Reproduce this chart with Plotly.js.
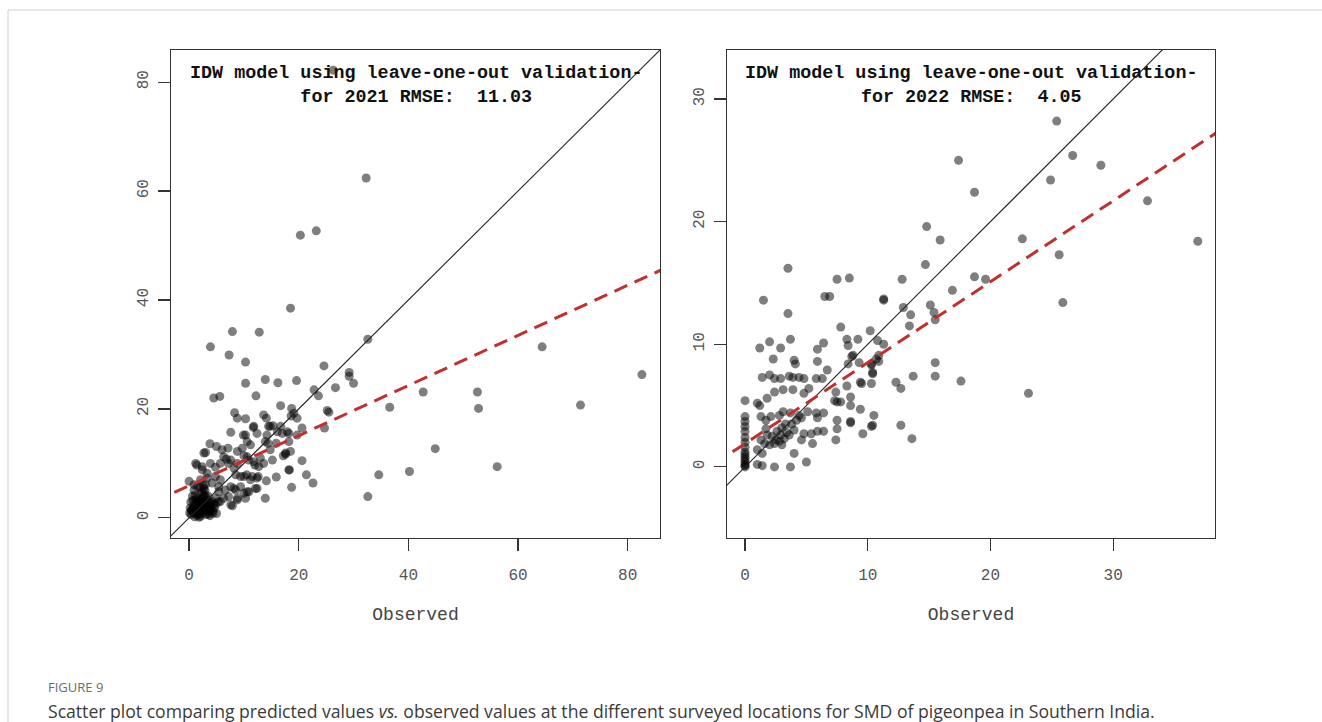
<!DOCTYPE html>
<html>
<head>
<meta charset="utf-8">
<script src="https://cdn.plot.ly/plotly-3.0.1.min.js"></script>
<style>
  html, body { margin: 0; padding: 0; background: #fff; }
  #chart { width: 1322px; height: 722px; }
</style>
</head>
<body>
<div id="chart"></div>
<script>
// ---------- 2021 (left panel) ----------
const obs2021 = [
  26.3, 32.3, 20.3, 23.2, 18.5, 7.9, 12.8, 3.9, 7.3, 10.3, 32.6, 24.6, 29.2, 29.2, 30.0, 10.3, 13.9, 16.2, 19.6, 22.8,
  26.7, 64.4, 82.6, 42.7, 52.6, 36.6, 52.8, 71.4, 44.9, 40.2, 56.2, 34.6, 32.6, 23.6, 4.5, 5.6, 12.2, 8.3, 8.8, 10.3,
  13.6, 14.1, 16.7, 18.7, 19.1, 18.6, 19.7, 20.6, 25.2, 25.5, 24.7, 7.6, 10.3, 11.8, 12.4, 14.5, 15.3, 16.1, 17.0, 17.9,
  10.6, 14.2, 14.4, 15.9, 18.2, 18.5, 17.6, 17.2, 20.6, 3.8, 5.0, 6.0, 7.1, 3.0, 1.4, 2.4, 3.9, 4.8, 5.7, 6.8,
  7.6, 8.8, 10.0, 10.9, 12.0, 13.0, 11.5, 9.4, 8.5, 10.5, 12.6, 14.1, 15.9, 18.3, 21.4, 22.6, 18.7, 2.1, 3.3, 4.2,
  0.9, 1.5, 2.7, 5.4, 6.6, 8.2, 9.4, 10.6, 12.1, 7.2, 8.8, 10.0, 13.9, 5.7, 7.9, 4.8,
  9.9, 11.7, 14.8, 16.7, 18.2, 11.2, 13.9, 14.8, 2.7, 6.3, 8.8, 9.7, 10.6, 1.2, 7.2, 8.2, 11.8, 12.7, 13.6, 15.2,
  17.6, 18.2, 19.7, 2.4, 3.3, 4.8, 5.7, 10.0, 11.2, 12.4, 0.0, 0.9, 7.6, 8.5, 10.9, 12.4, 5.4, 6.3, 8.8, 10.3,
  7.6, 3.9,
  0.2, 0.5, 0.8, 1.0, 1.2, 1.3, 1.5, 1.6, 1.8, 1.9, 2.0, 2.1, 2.2, 2.3, 2.5, 2.6, 2.7, 2.8, 2.9, 3.0,
  3.1, 3.2, 3.3, 3.4, 3.5, 3.6, 3.7, 3.8, 4.0, 4.2, 4.3, 0.4, 0.7, 1.1, 1.4, 1.7, 2.4, 2.0, 2.6, 3.0,
  0.3, 0.6, 1.0, 1.8, 2.5, 3.9, 4.4, 0.1, 2.2, 1.5, 4.6, 5.0, 5.3, 4.9,
  0.6, 1.3, 2.0, 2.7, 3.4, 0.9, 1.6, 2.3, 3.1, 3.8, 1.2, 2.1, 2.9, 0.4, 1.9, 3.6, 4.5, 2.6
];
const pred2021 = [
  82.2, 62.4, 51.9, 52.7, 38.5, 34.2, 34.1, 31.4, 29.9, 28.6, 32.8, 27.9, 26.7, 26.0, 24.7, 24.7, 25.4, 24.8, 25.2, 23.5,
  23.9, 31.4, 26.3, 23.1, 23.1, 20.3, 20.1, 20.7, 12.7, 8.5, 9.4, 7.9, 3.9, 22.4, 22.0, 22.3, 22.4, 19.3, 18.3, 18.2,
  18.9, 18.3, 20.6, 20.1, 19.2, 18.7, 18.3, 16.5, 19.7, 19.4, 16.5, 15.7, 15.2, 16.8, 15.5, 16.8, 16.9, 15.8, 15.5, 15.8,
  14.0, 15.2, 13.7, 13.7, 14.0, 12.2, 11.7, 11.4, 10.5, 13.6, 13.1, 12.5, 12.8, 12.0, 9.7, 9.4, 10.0, 9.3, 10.0, 10.8,
  10.6, 10.0, 11.4, 10.6, 9.7, 11.0, 7.6, 7.6, 7.9, 7.9, 7.6, 6.8, 7.5, 8.8, 7.9, 6.4, 5.6, 7.0, 7.3, 6.4,
  5.1, 5.7, 5.4, 5.7, 5.1, 5.4, 5.7, 4.8, 5.4, 3.9, 3.6, 4.5, 3.6, 3.0, 2.2, 2.4,
  15.2, 16.6, 16.8, 16.8, 15.5, 13.4, 14.0, 12.5, 11.9, 11.2, 12.2, 12.8, 11.2, 10.0, 10.0, 9.1, 10.3, 9.4, 10.0, 10.6,
  11.9, 8.8, 15.2, 8.8, 8.2, 7.6, 7.0, 7.6, 7.0, 7.3, 6.7, 6.1, 5.7, 5.1, 4.8, 5.4, 4.8, 3.6, 3.3, 3.6,
  2.4, 1.5,
  1.8, 1.2, 2.0, 0.8, 1.5, 2.6, 0.5, 1.9, 3.1, 1.0, 2.3, 0.3, 1.6, 3.5, 2.8, 0.9, 1.9, 4.2, 1.3, 2.5,
  0.6, 3.3, 1.7, 2.1, 4.0, 1.1, 2.9, 0.4, 1.9, 3.0, 1.2, 0.6, 3.2, 4.1, 3.6, 2.7, 4.8, 5.6, 5.9, 6.1,
  2.9, 4.0, 0.2, 0.1, 1.4, 2.6, 0.9, 0.9, 2.0, 1.2, 1.8, 0.8, 2.9, 3.6,
  1.5, 0.9, 1.1, 2.2, 1.4, 2.4, 2.9, 3.0, 3.8, 2.2, 3.3, 4.4, 5.0, 1.4, 0.6, 0.7, 2.6, 3.9
];

// ---------- 2022 (right panel) ----------
const obs2022 = [
  25.4, 17.4, 26.7, 29.0, 24.9, 18.7, 32.8, 15.9, 22.6, 36.9, 25.6, 18.7, 19.6, 16.9, 25.9, 17.6, 23.1, 14.8, 14.7, 8.5,
  12.8, 11.3, 11.3, 12.9, 15.1, 15.4, 15.5, 13.5, 13.4, 7.8, 10.2, 8.3, 8.4, 9.2, 10.8, 11.3, 8.8, 10.9, 10.7, 9.3,
  10.3, 10.3, 10.9, 15.5, 10.4, 8.3, 9.5, 10.3, 12.3, 12.7, 13.7, 15.5, 8.6, 8.6, 7.8, 10.5, 10.3, 8.6, 8.6, 9.6,
  12.7, 13.6, 3.5, 7.5, 1.5, 6.5, 6.9, 3.5, 1.2, 2.0, 2.9, 3.7, 5.9, 6.4, 2.3, 4.0, 4.1, 5.9, 6.7, 1.4,
  2.0, 2.4, 2.9, 3.6, 3.9, 4.4, 4.8, 5.8, 6.3, 8.4, 8.7, 10.4, 9.4,
  0, 0, 0, 0, 0, 0, 0, 0, 0, 0, 0, 0, 0, 0, 0, 0,
  1.0, 1.2, 1.8, 2.4, 3.1, 3.9, 4.8, 5.2, 7.4, 7.3, 7.5, 9.4, 1.3, 1.7, 2.1, 2.8, 3.1, 3.7, 4.4, 5.1,
  5.8, 6.4, 5.9, 7.5, 10.4, 7.5, 7.4, 6.4, 5.9, 5.4, 4.8, 4.6, 5.5, 4.0, 3.6, 3.2, 2.8, 2.4, 2.0, 1.7,
  1.8, 1.3, 1.0, 1.4, 4.0, 5.0, 1.0, 1.4, 2.4, 3.7,
  2.2, 2.6, 3.0, 3.3, 2.5, 3.4, 3.0, 3.8, 4.2, 4.6, 1.6, 2.9
];
const pred2022 = [
  28.2, 25.0, 25.4, 24.6, 23.4, 22.4, 21.7, 18.5, 18.6, 18.4, 17.3, 15.5, 15.3, 14.4, 13.4, 7.0, 6.0, 19.6, 16.5, 15.4,
  15.3, 13.7, 13.6, 13.0, 13.2, 12.6, 12.0, 12.4, 11.5, 11.4, 11.1, 10.4, 9.9, 10.4, 10.3, 10.0, 9.1, 9.1, 8.8, 8.5,
  8.4, 8.3, 8.6, 8.5, 7.7, 6.6, 6.8, 6.8, 6.9, 6.4, 7.4, 7.4, 5.7, 5.0, 5.3, 4.2, 3.3, 3.7, 3.6, 2.7,
  3.4, 2.3, 16.2, 15.3, 13.6, 13.9, 13.9, 12.5, 9.7, 10.2, 9.7, 10.4, 9.6, 10.1, 8.8, 8.7, 8.4, 8.6, 7.9, 7.3,
  7.5, 7.2, 7.2, 7.4, 7.3, 7.3, 7.2, 7.2, 7.2, 8.4, 9.0, 7.6, 6.9,
  5.4, 4.1, 3.7, 3.3, 2.9, 2.4, 2.0, 1.6, 1.2, 0.8, 0.4, 0.2, 0.0, 0.6, 1.0, 0.1,
  5.2, 5.0, 5.6, 6.1, 6.3, 6.3, 6.0, 6.4, 6.1, 5.4, 5.3, 4.7, 4.1, 3.8, 4.1, 4.2, 4.5, 4.4, 4.2, 4.5,
  4.4, 4.4, 4.0, 3.8, 3.4, 3.1, 2.2, 2.9, 2.9, 2.7, 2.7, 2.2, 1.9, 3.0, 2.6, 2.3, 2.1, 1.9, 1.8, 3.1,
  2.6, 2.2, 1.4, 1.1, 1.1, 0.4, 0.2, 0.1, 0.0, 0.0,
  2.5, 2.9, 3.2, 3.5, 2.2, 2.8, 1.8, 3.5, 3.8, 4.0, 1.9, 2.6
];

// fitted regression lines (predicted ~ observed) and the 1:1 reference
const fit2021Intercept = 5.9, fit2021Slope = 0.46;
const fit2022Intercept = 1.9, fit2022Slope = 0.66;
const refLineX = [-10, 100];

const titles = [
  "IDW model using leave-one-out validation-<br>for 2021 RMSE:  11.03",
  "IDW model using leave-one-out validation-<br>for 2022 RMSE:  4.05"
];
const xTicks2021 = [0, 20, 40, 60, 80], yTicks2021 = [0, 20, 40, 60, 80];
const xTicks2022 = [0, 10, 20, 30], yTicks2022 = [0, 10, 20, 30];
const xLabel = "Observed";
const figLabel = "FIGURE 9";
const caption = "Scatter plot comparing predicted values <i>vs.</i> observed values at the different surveyed locations for SMD of pigeonpea in Southern India.";

// ---------- build ----------
const W = 1322, H = 722;
const px = v => v / W, py = v => 1 - v / H;
const mono = "'Liberation Mono', 'DejaVu Sans Mono', monospace";
const sans = "'Open Sans', 'Noto Sans', sans-serif";
const marker = { size: 9, color: 'rgba(0,0,0,0.5)', line: { width: 0 } };

function fitY(xs, a, b) { return xs.map(x => a + b * x); }

const traces = [
  { x: obs2021, y: pred2021, type: 'scatter', mode: 'markers', marker, xaxis: 'x', yaxis: 'y', hoverinfo: 'x+y' },
  { x: refLineX, y: refLineX, type: 'scatter', mode: 'lines', line: { color: '#222', width: 1.1 }, xaxis: 'x', yaxis: 'y' },
  { x: refLineX, y: fitY(refLineX, fit2021Intercept, fit2021Slope), type: 'scatter', mode: 'lines',
    line: { color: '#C0302E', width: 3, dash: '14px,8px' }, xaxis: 'x', yaxis: 'y' },
  { x: obs2022, y: pred2022, type: 'scatter', mode: 'markers', marker, xaxis: 'x2', yaxis: 'y2', hoverinfo: 'x+y' },
  { x: refLineX, y: refLineX, type: 'scatter', mode: 'lines', line: { color: '#222', width: 1.1 }, xaxis: 'x2', yaxis: 'y2' },
  { x: refLineX, y: fitY(refLineX, fit2022Intercept, fit2022Slope), type: 'scatter', mode: 'lines',
    line: { color: '#C0302E', width: 3, dash: '14px,8px' }, xaxis: 'x2', yaxis: 'y2' }
];

const tickFont = { family: mono, size: 16, color: '#555' };
function axisBase(extra) {
  return Object.assign({
    showgrid: false, zeroline: false, showline: true, mirror: true, linecolor: '#333', linewidth: 1.2,
    ticks: 'outside', ticklen: 12, tickwidth: 1.2, tickcolor: '#333', tickfont: tickFont,
    tickmode: 'array', fixedrange: true
  }, extra);
}
const yDom = [py(538), py(50)];
const xTitle = { text: xLabel, font: { family: mono, size: 18, color: '#444' }, standoff: 23 };

const layout = {
  width: W, height: H,
  margin: { l: 0, r: 0, t: 0, b: 0 },
  paper_bgcolor: '#fff', plot_bgcolor: '#fff',
  showlegend: false,
  xaxis: axisBase({ domain: [px(171), px(660)], range: [-3.3, 85.9], tickvals: xTicks2021, anchor: 'y',
    ticklabelstandoff: 10, title: xTitle }),
  yaxis: axisBase({ domain: yDom, range: [-3.7, 85.9], tickvals: yTicks2021, anchor: 'x', tickangle: -90,
    ticklabelstandoff: 3 }),
  xaxis2: axisBase({ domain: [px(727), px(1215)], range: [-1.47, 38.3], tickvals: xTicks2022, anchor: 'y2',
    ticklabelstandoff: 10, title: xTitle }),
  yaxis2: axisBase({ domain: yDom, range: [-5.8, 34.0], tickvals: yTicks2022, anchor: 'x2', tickangle: -90,
    ticklabelstandoff: 3 }),
  annotations: [
    { xref: 'x domain', yref: 'paper', x: 0.5, y: py(61), xanchor: 'center', yanchor: 'top',
      text: '<b>' + titles[0] + '</b>', showarrow: false, font: { family: mono, size: 18.4, color: '#111' } },
    { xref: 'x2 domain', yref: 'paper', x: 0.5, y: py(61), xanchor: 'center', yanchor: 'top',
      text: '<b>' + titles[1] + '</b>', showarrow: false, font: { family: mono, size: 18.4, color: '#111' } },
    { xref: 'paper', yref: 'paper', x: px(46), y: py(687), xanchor: 'left', yanchor: 'middle',
      text: figLabel, showarrow: false, font: { family: sans, size: 13, color: '#6b6b6b' } },
    { xref: 'paper', yref: 'paper', x: px(46), y: py(711), xanchor: 'left', yanchor: 'middle',
      text: caption, showarrow: false, font: { family: sans, size: 17.6, color: '#3a3a3a' } }
  ],
  shapes: [
    { type: 'line', xref: 'paper', yref: 'paper', x0: px(8), x1: 1, y0: py(10), y1: py(10), line: { color: '#cfcfcf', width: 1 } },
    { type: 'line', xref: 'paper', yref: 'paper', x0: px(8), x1: px(8), y0: 0, y1: py(10), line: { color: '#cfcfcf', width: 1 } }
  ]
};

Plotly.newPlot('chart', traces, layout, { displayModeBar: false, staticPlot: true });
</script>
</body>
</html>
